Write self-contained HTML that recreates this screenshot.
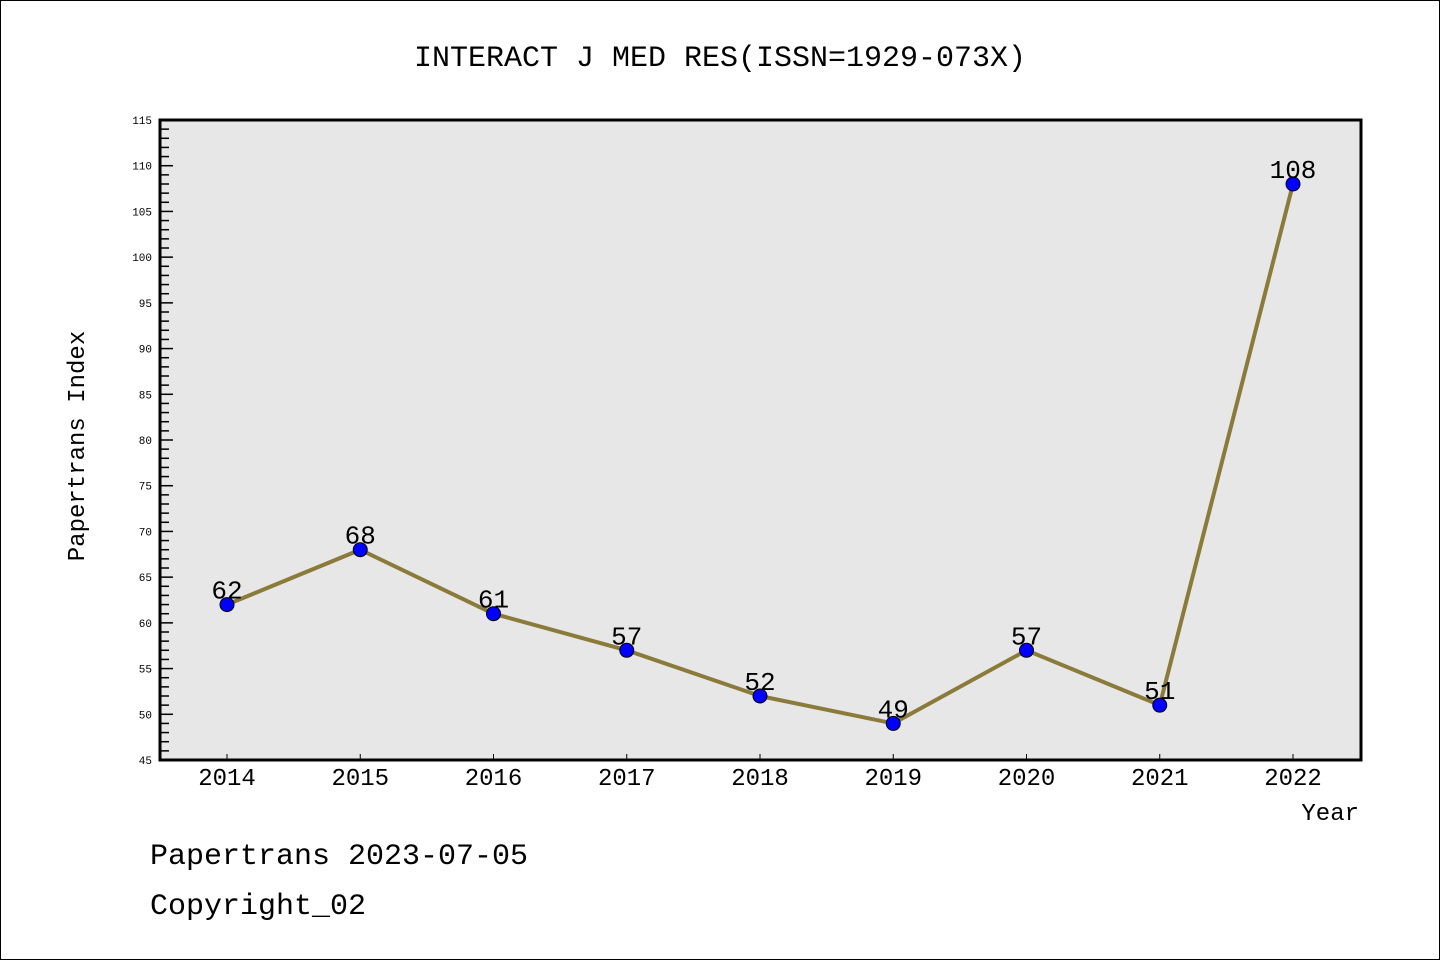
<!DOCTYPE html>
<html><head><meta charset="utf-8"><style>
body{margin:0;background:#fff}
svg text{font-family:"Liberation Mono","DejaVu Sans Mono",monospace}
</style></head><body>
<svg id="c" width="1440" height="960" xmlns="http://www.w3.org/2000/svg">
<rect x="0.5" y="0.5" width="1439" height="959" fill="#fff" stroke="#000"/>
<text x="720" y="66" font-size="30" text-anchor="middle">INTERACT J MED RES(ISSN=1929-073X)</text>
<rect x="160" y="120" width="1201" height="640" fill="#e7e7e7"/>
<g id="ticks"></g>
<g id="series"></g>
<rect x="160" y="120" width="1201" height="640" fill="none" stroke="#000" stroke-width="3"/>
<text transform="translate(84,446) rotate(-90)" font-size="24" text-anchor="middle">Papertrans Index</text>
<text x="1359" y="820" font-size="24" text-anchor="end">Year</text>
<text x="150" y="864" font-size="30">Papertrans 2023-07-05</text>
<text x="150" y="914" font-size="30">Copyright_02</text>
</svg>
<script>
const years=["2014","2015","2016","2017","2018","2019","2020","2021","2022"];
const values=[62,68,61,57,52,49,57,51,108];
const yTicks=[45,50,55,60,65,70,75,80,85,90,95,100,105,110,115];
const NS="http://www.w3.org/2000/svg";
const yMin=45,yMax=115,plotTop=120,plotBot=760;
function ys(v){return plotBot-(v-yMin)/(yMax-yMin)*(plotBot-plotTop);}
function xs(i){return 227+i*(1293-227)/(years.length-1);}
function mk(t,a,p){const e=document.createElementNS(NS,t);for(const k in a)e.setAttribute(k,a[k]);p.appendChild(e);return e;}
const tg=document.getElementById('ticks'),sg=document.getElementById('series');
for(let v=yMin;v<=yMax;v++){
  const major=v%5===0;
  const l=mk('line',{x1:160,x2:160+(major?13:9),y1:ys(v),y2:ys(v),stroke:'#000','stroke-width':1.5},tg);
  
  
}
yTicks.forEach(v=>{
  const t=mk('text',{x:152,y:ys(v)+4,'font-size':11,'text-anchor':'end'},tg);t.textContent=v;
  
  
});
years.forEach((y,i)=>{
  const l=mk('line',{x1:xs(i),x2:xs(i),y1:plotBot,y2:plotBot-6,stroke:'#000','stroke-width':1},tg);
  
  
  const t=mk('text',{x:xs(i),y:785,'font-size':24,'text-anchor':'middle'},tg);t.textContent=y;
  
  
});
const pl=mk('polyline',{points:values.map((v,i)=>xs(i)+','+ys(v)).join(' '),fill:'none',stroke:'#8b7b3a','stroke-width':4},sg);


values.forEach((v,i)=>{
  const c=mk('circle',{cx:xs(i),cy:ys(v),r:7,fill:'#0000ff',stroke:'#000','stroke-width':1},sg);
  
  
  const t=mk('text',{x:xs(i),y:ys(v)-6,'font-size':26,'text-anchor':'middle'},sg);t.textContent=v;
  
  
});
</script>
</body></html>
